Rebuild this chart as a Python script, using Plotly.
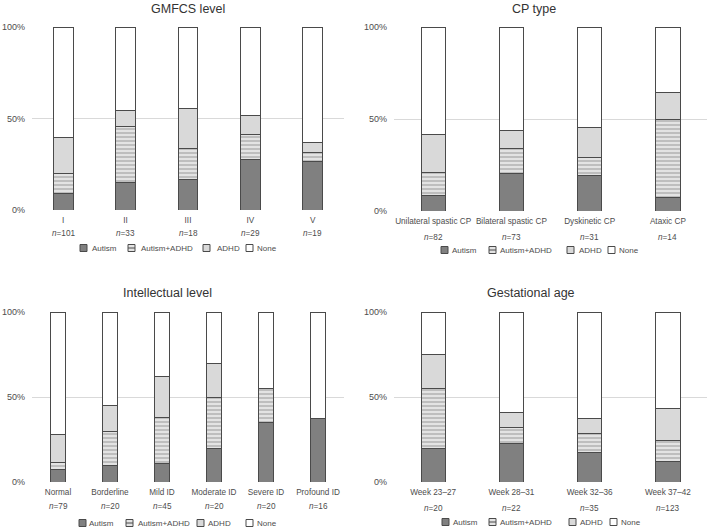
import plotly.graph_objects as go

# ---------------- data (percent of group) ----------------
series_names = ["Autism", "Autism+ADHD", "ADHD", "None"]

gmfcs_cats = ["I", "II", "III", "IV", "V"]
gmfcs_n = [101, 33, 18, 29, 19]
gmfcs_autism = [8.9, 15.2, 16.7, 27.6, 26.3]
gmfcs_autism_adhd = [10.9, 30.3, 16.7, 13.8, 5.3]
gmfcs_adhd = [19.8, 9.1, 22.2, 10.3, 5.3]
gmfcs_none = [60.4, 45.4, 44.4, 48.3, 63.1]

cp_cats = ["Unilateral spastic CP", "Bilateral spastic CP", "Dyskinetic CP", "Ataxic CP"]
cp_n = [82, 73, 31, 14]
cp_autism = [8.5, 20.5, 19.4, 7.1]
cp_autism_adhd = [12.2, 13.7, 9.7, 42.9]
cp_adhd = [20.7, 9.6, 16.1, 14.3]
cp_none = [58.6, 56.2, 54.8, 35.7]

iq_cats = ["Normal", "Borderline", "Mild ID", "Moderate ID", "Severe ID", "Profound ID"]
iq_n = [79, 20, 45, 20, 20, 16]
iq_autism = [7.6, 10.0, 11.1, 20.0, 35.0, 37.5]
iq_autism_adhd = [3.8, 20.0, 26.7, 30.0, 20.0, 0.0]
iq_adhd = [16.4, 15.0, 24.4, 20.0, 0.0, 0.0]
iq_none = [72.2, 55.0, 37.8, 30.0, 45.0, 62.5]

ga_cats = ["Week 23–27", "Week 28–31", "Week 32–36", "Week 37–42"]
ga_n = [20, 22, 35, 123]
ga_autism = [20.0, 22.7, 17.1, 12.2]
ga_autism_adhd = [35.0, 9.1, 11.4, 12.2]
ga_adhd = [20.0, 9.1, 8.6, 18.7]
ga_none = [25.0, 59.1, 62.9, 56.9]

y_ticks = [0, 50, 100]

# ---------------- styling ----------------
FONT = "Liberation Sans, Arial, sans-serif"
TXT = "#4d4d4d"
EDGE = "#4a4a4a"

styles = {
    "Autism": dict(color="#808080"),
    "Autism+ADHD": dict(color="#e3e3e3",
                        pattern=dict(shape="-", size=4, solidity=0.5,
                                     fgcolor="#9a9a9a", bgcolor="#e3e3e3",
                                     fillmode="overlay")),
    "ADHD": dict(color="#d9d9d9"),
    "None": dict(color="#ffffff"),
}

panels = [
    dict(title="GMFCS level", cats=gmfcs_cats, n=gmfcs_n,
         vals=[gmfcs_autism, gmfcs_autism_adhd, gmfcs_adhd, gmfcs_none],
         width=0.32, xd=[32, 344], yd=[27, 210], title_xy=(188, 9), n_y=234,
         leg_x=[80, 128, 203, 246], leg_tx=[90, 139, 215, 255], leg_y=248),
    dict(title="CP type", cats=cp_cats, n=cp_n,
         vals=[cp_autism, cp_autism_adhd, cp_adhd, cp_none],
         width=0.31, xd=[394, 707], yd=[27, 211], title_xy=(534, 9), n_y=237,
         leg_x=[441, 489, 567, 608], leg_tx=[450, 498, 577, 617], leg_y=250),
    dict(title="Intellectual level", cats=iq_cats, n=iq_n,
         vals=[iq_autism, iq_autism_adhd, iq_adhd, iq_none],
         width=0.30, xd=[32, 344], yd=[312, 482], title_xy=(167, 293), n_y=506,
         leg_x=[79, 126, 197, 246], leg_tx=[87, 136, 206, 255], leg_y=523),
    dict(title="Gestational age", cats=ga_cats, n=ga_n,
         vals=[ga_autism, ga_autism_adhd, ga_adhd, ga_none],
         width=0.31, xd=[394, 707], yd=[312, 482], title_xy=(531, 293), n_y=508,
         leg_x=[442, 489, 569, 610], leg_tx=[451, 498, 578, 619], leg_y=522),
]

W, H = 709, 528
fig = go.Figure()
layout = dict(
    width=W, height=H, margin=dict(l=0, r=0, t=0, b=0, autoexpand=False),
    paper_bgcolor="white", plot_bgcolor="white",
    font=dict(family=FONT, color=TXT, size=9),
    barmode="stack", showlegend=False, annotations=[], shapes=[],
)

def px_x(v):
    return v / W

def px_y(v):
    return 1 - v / H

for i, p in enumerate(panels):
    k = "" if i == 0 else str(i + 1)
    xa, ya = "x" + k, "y" + k
    for name, v in zip(series_names, p["vals"]):
        st = styles[name]
        marker = dict(color=st["color"], line=dict(color=EDGE, width=1))
        if "pattern" in st:
            marker["pattern"] = st["pattern"]
        fig.add_trace(go.Bar(
            x=p["cats"], y=v, name=name, width=p["width"],
            marker=marker, xaxis=xa, yaxis=ya,
            hovertemplate="%{x}: %{y:.1f}%<extra>" + name + "</extra>",
        ))
    dom = [px_x(p["xd"][0]), px_x(p["xd"][1])]
    layout["xaxis" + k] = dict(
        domain=dom, anchor=ya,
        tickmode="array", tickvals=p["cats"], ticktext=p["cats"],
        showline=False, showgrid=False, ticks="", tickangle=0,
        tickfont=dict(size=8.2, color=TXT), ticklabelstandoff=4,
    )
    layout["yaxis" + k] = dict(
        domain=[px_y(p["yd"][1]), px_y(p["yd"][0])], anchor=xa,
        range=[0, 100], tickmode="array", tickvals=y_ticks,
        ticktext=[f"{t}%" for t in y_ticks],
        showgrid=True, gridcolor="#d9d9d9", gridwidth=1,
        zeroline=False, showline=False, ticks="",
        tickfont=dict(size=9, color=TXT), ticklabelstandoff=6,
    )
    # group sizes under each category (placed through the category axis)
    for c, n in zip(p["cats"], p["n"]):
        layout["annotations"].append(dict(
            text=f"<i>n</i>={n}", x=c, xref=xa, y=px_y(p["n_y"]), yref="paper",
            xanchor="center", yanchor="middle", showarrow=False,
            font=dict(size=8.2, color=TXT, family=FONT),
        ))
    layout["annotations"].append(dict(
        text=p["title"], x=px_x(p["title_xy"][0]), y=px_y(p["title_xy"][1]),
        xref="paper", yref="paper", xanchor="center", yanchor="middle",
        showarrow=False, font=dict(size=12.5, color="#333333", family=FONT),
    ))
    # compact legend (Excel style)
    s = 7
    cy = p["leg_y"]
    for name, lx, tx in zip(series_names, p["leg_x"], p["leg_tx"]):
        st = styles[name]
        layout["shapes"].append(dict(
            type="rect", xref="paper", yref="paper",
            x0=px_x(lx), x1=px_x(lx + s), y0=px_y(cy + s / 2), y1=px_y(cy - s / 2),
            fillcolor=st["color"], line=dict(color=EDGE, width=1),
        ))
        if "pattern" in st:
            layout["shapes"].append(dict(
                type="line", xref="paper", yref="paper",
                x0=px_x(lx), x1=px_x(lx + s), y0=px_y(cy), y1=px_y(cy),
                line=dict(color=EDGE, width=1),
            ))
        layout["annotations"].append(dict(
            text=name, x=px_x(tx), y=px_y(cy), xref="paper", yref="paper",
            xanchor="left", yanchor="middle", showarrow=False,
            font=dict(size=8, color=TXT, family=FONT),
        ))

fig.update_layout(**layout)
fig.write_html("out.html", config={"displayModeBar": False},
               post_script="document.body.style.margin='0';")
